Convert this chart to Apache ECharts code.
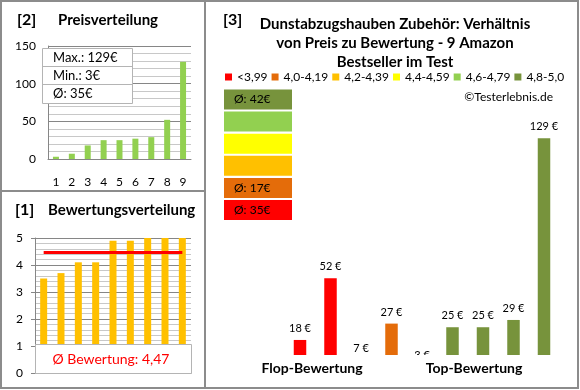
<!DOCTYPE html>
<html><head><meta charset="utf-8">
<script src="https://cdn.jsdelivr.net/npm/echarts@6/dist/echarts.min.js"></script>
<style>html,body{margin:0;padding:0;background:#fff}#c{width:580px;height:390px}</style>
</head><body><div id="c"></div>
<script>
// ---- data ----
const priceCategories = ['1','2','3','4','5','6','7','8','9'];
const pricesSorted = [3, 7, 18, 25, 25, 27, 29, 52, 129];
const priceTicks = [0, 50, 100, 150];
const ratingsSorted = [3.5, 3.7, 4.1, 4.1, 4.9, 4.9, 5.0, 5.0, 5.0];
const avgRating = 4.47;
const ratingTicks = [0, 1, 2, 3, 4, 5];
const productPrices = [18, 52, 7, 27, 3, 25, 25, 29, 129];
const productRatings = [3.5, 3.7, 4.1, 4.1, 4.9, 4.9, 5.0, 5.0, 5.0];
const classNames = ['<3,99', '4,0-4,19', '4,2-4,39', '4,4-4,59', '4,6-4,79', '4,8-5,0'];
const classColors = ['#FF0000', '#E46C0A', '#FFC000', '#FFFF00', '#92D050', '#77933C'];
const classAvgLabels = ['Ø: 35€', 'Ø: 17€', '', '', '', 'Ø: 42€'];
const statsLabels = ['Max.: 129€', 'Min.: 3€', 'Ø: 35€'];
const ratingLabel = 'Ø Bewertung: 4,47';
const mainTitle = 'Dunstabzugshauben Zubehör: Verhältnis\nvon Preis zu Bewertung - 9 Amazon\nBestseller im Test';
const groupLabels = ['Flop-Bewertung', 'Top-Bewertung'];

// ---- build ----
const FONT = 'Lato';
function ratingClass(r) {
  if (r < 4.0) return 0;
  if (r < 4.2) return 1;
  if (r < 4.4) return 2;
  if (r < 4.6) return 3;
  if (r < 4.8) return 4;
  return 5;
}
const productCats = productPrices.map((_, i) => String(i + 1));
const classSeries = classNames.map((name, ci) => ({
  name: name,
  type: 'bar',
  xAxisIndex: 2, yAxisIndex: 2,
  barWidth: 12.5,
  barGap: '-100%',
  clip: false,
  itemStyle: { color: classColors[ci] },
  label: { show: true, position: 'top', distance: 6, formatter: '{c} €',
           fontFamily: FONT, fontSize: 11, color: '#000' },
  data: productPrices.map((p, i) => ratingClass(productRatings[i]) === ci ? p : '-')
}));

const gray = '#868686', light = '#c8c8c8';
const graphics = [];
// outer frames
graphics.push({ type: 'rect', z: 200, shape: { x: 1, y: 1, width: 577, height: 387 }, style: { fill: 'none', stroke: '#8c8c8c', lineWidth: 2 } });
graphics.push({ type: 'line', z: 200, shape: { x1: 205, y1: 1, x2: 205, y2: 388 }, style: { stroke: '#8c8c8c', lineWidth: 2 } });
graphics.push({ type: 'line', z: 200, shape: { x1: 1, y1: 191, x2: 205, y2: 191 }, style: { stroke: '#8c8c8c', lineWidth: 2 } });
// titles
function txt(t, x, y, font, extra) {
  return Object.assign({ type: 'text', z: 120, x: x, y: y,
    style: Object.assign({ text: t, font: font, fill: '#000', textVerticalAlign: 'middle' }, extra || {}) });
}
graphics.push(txt('[2]', 17, 20, 'bold 16px ' + FONT));
graphics.push(txt('Preisverteilung', 58, 20, 'bold 15px ' + FONT));
graphics.push(txt('[1]', 15, 210, 'bold 16px ' + FONT));
graphics.push(txt('Bewertungsverteilung', 48, 210, 'bold 15px ' + FONT));
graphics.push(txt('[3]', 223, 20, 'bold 16px ' + FONT));
graphics.push({ type: 'text', z: 120, x: 395, y: 15,
  style: { text: mainTitle, font: 'bold 15px ' + FONT, fill: '#000', textAlign: 'center', lineHeight: 19 } });
graphics.push(txt('©Testerlebnis.de', 553, 97, '12px ' + FONT, { textAlign: 'right' }));
// stats box panel 2
graphics.push({ type: 'rect', z: 110, shape: { x: 42.5, y: 48.5, width: 90, height: 55 }, style: { fill: '#fff', stroke: '#b4b4b4', lineWidth: 1 } });
graphics.push({ type: 'line', z: 111, shape: { x1: 42.5, y1: 66.5, x2: 132.5, y2: 66.5 }, style: { stroke: '#b4b4b4', lineWidth: 1 } });
graphics.push({ type: 'line', z: 111, shape: { x1: 42.5, y1: 84.5, x2: 132.5, y2: 84.5 }, style: { stroke: '#b4b4b4', lineWidth: 1 } });
statsLabels.forEach((s, i) => graphics.push(txt(s, 53, 58 + i * 17.7, '13px ' + FONT)));
// rating box panel 1
graphics.push({ type: 'rect', z: 110, shape: { x: 35.5, y: 344.5, width: 156, height: 29 }, style: { fill: '#fff', stroke: '#b4b4b4', lineWidth: 1 } });
graphics.push(txt(ratingLabel, 111, 359, '14px ' + FONT, { textAlign: 'center', fill: '#FF0000' }));
// class boxes panel 3 (top: best class)
for (let k = 0; k < classNames.length; k++) {
  const ci = classNames.length - 1 - k;
  const y = 89.5 + k * 22.1;
  graphics.push({ type: 'rect', z: 110, shape: { x: 224, y: y, width: 68, height: 20 }, style: { fill: classColors[ci] } });
  if (classAvgLabels[ci]) graphics.push(txt(classAvgLabels[ci], 234, y + 10, '12px ' + FONT));
}
// cover below baseline of panel 3
graphics.push({ type: 'rect', z: 100, shape: { x: 282, y: 355, width: 286, height: 30 }, style: { fill: '#fff' } });
graphics.push(txt(groupLabels[0], 312, 368, 'bold 14px ' + FONT, { textAlign: 'center' }));
graphics.push(txt(groupLabels[1], 474, 368, 'bold 14px ' + FONT, { textAlign: 'center' }));

const chart = echarts.init(document.getElementById('c'), null, { renderer: 'canvas' });
chart.setOption({
  animation: false,
  backgroundColor: '#fff',
  textStyle: { fontFamily: FONT },
  grid: [
    { left: 48, top: 46, width: 143, height: 113 },
    { left: 35, top: 238, width: 156, height: 135 },
    { left: 284.75, top: 100, width: 274.5, height: 254.5 }
  ],
  legend: {
    data: classNames,
    left: 225, top: 71,
    itemWidth: 7, itemHeight: 7, itemGap: 4,
    icon: 'rect', padding: 0,
    textStyle: { fontFamily: FONT, fontSize: 12, color: '#000' },
    selectedMode: false
  },
  xAxis: [
    { gridIndex: 0, type: 'category', data: priceCategories,
      axisLine: { lineStyle: { color: gray } }, axisTick: { show: false },
      axisLabel: { margin: 17, fontSize: 12, color: '#000' } },
    { gridIndex: 1, type: 'category', data: priceCategories,
      axisLine: { lineStyle: { color: gray } }, axisTick: { show: false },
      axisLabel: { show: false } },
    { gridIndex: 2, type: 'category', data: productCats, show: false }
  ],
  yAxis: [
    { gridIndex: 0, type: 'value', min: priceTicks[0], max: priceTicks[priceTicks.length - 1], interval: 50,
      axisLine: { show: true, lineStyle: { color: gray } },
      axisTick: { show: false },
      axisLabel: { margin: 12, fontSize: 12, color: '#000' },
      splitLine: { lineStyle: { color: gray } },
      minorTick: { show: false, splitNumber: 5 },
      minorSplitLine: { show: true, lineStyle: { color: light } } },
    { gridIndex: 1, type: 'value', min: ratingTicks[0], max: ratingTicks[ratingTicks.length - 1], interval: 1,
      axisLine: { show: true, lineStyle: { color: gray } },
      axisTick: { show: true, length: 4, lineStyle: { color: gray } },
      axisLabel: { margin: 12, fontSize: 12, color: '#000' },
      splitLine: { lineStyle: { color: gray } },
      minorTick: { show: false, splitNumber: 5 },
      minorSplitLine: { show: true, lineStyle: { color: light } } },
    { gridIndex: 2, type: 'value', min: 10, max: 150, show: false, splitLine: { show: false } }
  ],
  series: [
    { type: 'bar', xAxisIndex: 0, yAxisIndex: 0, barWidth: 6,
      itemStyle: { color: '#92D050' }, data: pricesSorted },
    { type: 'bar', xAxisIndex: 1, yAxisIndex: 1, barWidth: 7,
      itemStyle: { color: '#FFC000' }, data: ratingsSorted,
      markLine: { silent: true, symbol: 'none', label: { show: false },
        lineStyle: { color: '#FF0000', width: 3, type: 'solid' },
        data: [[{ coord: [0, avgRating] }, { coord: [priceCategories.length - 1, avgRating] }]] } }
  ].concat(classSeries),
  graphic: { elements: graphics }
});
</script></body></html>
